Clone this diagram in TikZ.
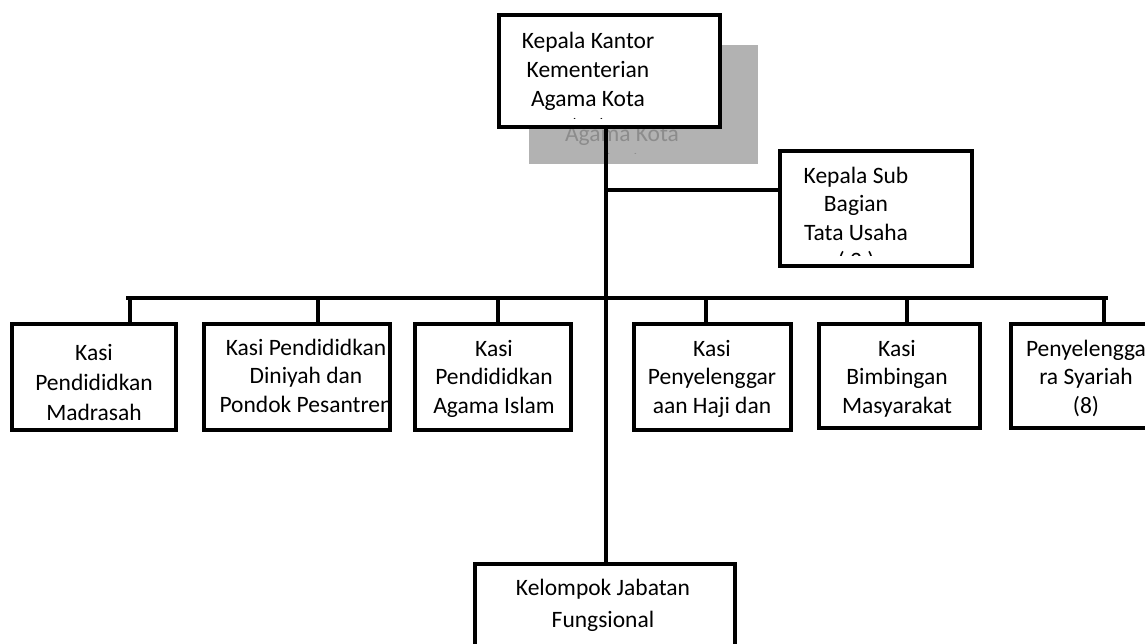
\documentclass[tikz,border=0pt]{standalone}
\usepackage{fontspec}
\setmainfont{Carlito}
\begin{document}
\begin{tikzpicture}[x=1pt,y=-1pt,
 box/.style={draw, line width=4.6pt, fill=white, inner sep=0pt, outer sep=0pt},
 conn/.style={line width=4.6pt},
 lbl/.style={align=center, inner sep=0pt, anchor=base, font=\fontsize{23.5}{29}\selectfont},
 graylbl/.style={lbl, text=black!45},
]
\clip (0,0) rectangle (1145,643);
\fill[white] (0,0) rectangle (1145,643);

% shadow box
\node[fill=black!30, inner sep=0pt, minimum width=229pt, minimum height=119pt] (shadow) at (643.5,104.5) {};
\begin{scope}
\clip (529,45) rectangle (758,153.5);
\node[graylbl] (shadowtxt) at (622,170) {Kepala Kantor\\Kementerian\\Agama Kota\\( 1 )};
\end{scope}

% top box
\node[box, minimum width=221pt, minimum height=112pt] (top) at (609.5,71) {};
\begin{scope}
\clip (501,17) rectangle (718,118.5);
\node[lbl] (toptxt) at (588,135) {Kepala Kantor\\Kementerian\\Agama Kota\\( 1 )};
\end{scope}

% sub bagian
\node[box, minimum width=192pt, minimum height=115pt] (sub) at (876,208.5) {};
\begin{scope}
\clip (782,153) rectangle (970,255);
\node[lbl, font=\fontsize{23.5}{28.5}\selectfont] (subtxt) at (856,268.5) {Kepala Sub\\Bagian\\Tata Usaha\\( 2 )};
\end{scope}

% second level boxes
\node[box, minimum width=164pt, minimum height=106pt] (b1) at (94,377) {};
\node[box, minimum width=186pt, minimum height=106pt] (b2) at (297,377) {};
\node[box, minimum width=156pt, minimum height=106pt] (b3) at (493,377) {};
\node[box, minimum width=157pt, minimum height=106pt] (b4) at (712.5,377) {};
\node[box, minimum width=161pt, minimum height=104pt] (b5) at (899.5,376) {};
\node[box, minimum width=152pt, minimum height=104pt] (b6) at (1087,376) {};

\node[lbl, font=\fontsize{23.5}{30}\selectfont] (t1) at (94,420) {Kasi\\Pendididkan\\Madrasah};
\node[lbl, font=\fontsize{23.5}{28.5}\selectfont] (t2) at (306,412) {Kasi Pendididkan\\Diniyah dan\\Pondok Pesantren};
\node[lbl, font=\fontsize{23.5}{28.5}\selectfont] (t3) at (494,413) {Kasi\\Pendididkan\\Agama Islam};
\node[lbl, font=\fontsize{23.5}{28.5}\selectfont] (t4) at (712,413) {Kasi\\Penyelenggar\\aan Haji dan};
\node[lbl, font=\fontsize{23.5}{28.5}\selectfont] (t5) at (897,413) {Kasi\\Bimbingan\\Masyarakat};
\node[lbl, font=\fontsize{23.5}{28.5}\selectfont] (t6) at (1086,413) {Penyelengga\\ra Syariah\\(8)};

% fungsional
\node[box, minimum width=260pt, minimum height=106pt] (fung) at (605,617) {};
\node[lbl, font=\fontsize{23.5}{32}\selectfont] (t7) at (603,627) {Kelompok Jabatan\\Fungsional};

% connectors
\coordinate (j1) at (606,190);
\coordinate (bl) at (128,298);
\coordinate (br) at (1106,298);
\draw[conn] (top.south -| j1) -- (fung.north -| j1);
\draw[conn] (j1) -- (j1 -| sub.west);
\draw[conn, line cap=rect] (bl) -- (br);
\coordinate (d1) at (130,298);
\coordinate (d2) at (318,298);
\coordinate (d3) at (498,298);
\coordinate (d4) at (706,298);
\coordinate (d5) at (907,298);
\coordinate (d6) at (1104,298);
\draw[conn] (d1) -- (d1 |- b1.north);
\draw[conn] (d2) -- (d2 |- b2.north);
\draw[conn] (d3) -- (d3 |- b3.north);
\draw[conn] (d4) -- (d4 |- b4.north);
\draw[conn] (d5) -- (d5 |- b5.north);
\draw[conn] (d6) -- (d6 |- b6.north);
\end{tikzpicture}
\end{document}
